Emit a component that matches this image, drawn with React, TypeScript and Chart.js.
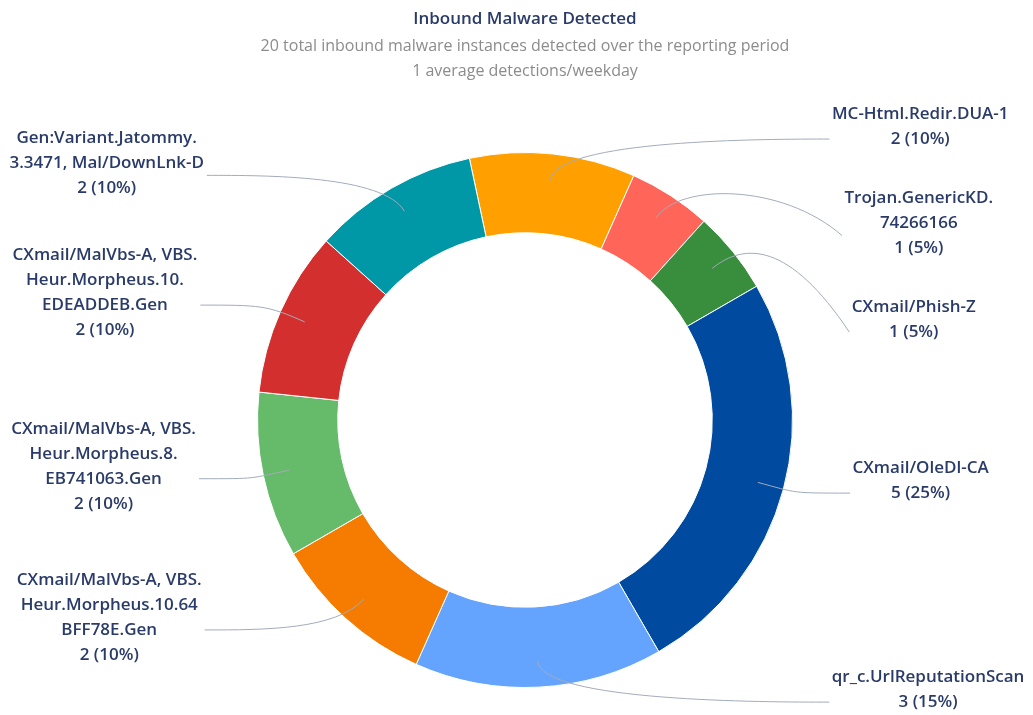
import React, { useEffect, useRef } from 'react';
import { Chart, registerables } from 'chart.js';

Chart.register(...registerables);

// ---- Data ----
const categories: string[][] = [
  ['MC-Html.Redir.DUA-1'],
  ['Trojan.GenericKD.', '74266166'],
  ['CXmail/Phish-Z'],
  ['CXmail/OleDl-CA'],
  ['qr_c.UrlReputationScan'],
  ['CXmail/MalVbs-A, VBS.', 'Heur.Morpheus.10.64', 'BFF78E.Gen'],
  ['CXmail/MalVbs-A, VBS.', 'Heur.Morpheus.8.', 'EB741063.Gen'],
  ['CXmail/MalVbs-A, VBS.', 'Heur.Morpheus.10.', 'EDEADDEB.Gen'],
  ['Gen:Variant.Jatommy.', '3.3471, Mal/DownLnk-D'],
];
const detections: number[] = [2, 1, 1, 5, 3, 2, 2, 2, 2];
const sliceColors: string[] = [
  '#FFA000', '#FF6659', '#388E3C', '#004A9F', '#64A4FF',
  '#F57C00', '#66BB6A', '#D32F2F', '#0097A7',
];
const titleText = 'Inbound Malware Detected';
const subtitleLines: string[] = [
  '20 total inbound malware instances detected over the reporting period',
  '1 average detections/weekday',
];

const NAVY = '#2a3b69';
const SUB = '#8c8c8c';
const LEADER = '#a3abba';
const FONT = '"Open Sans", "Noto Sans", sans-serif';

const outLabels = {
  id: 'outLabels',
  afterDatasetsDraw(chart: any) {
    const ctx: CanvasRenderingContext2D = chart.ctx;
    const meta = chart.getDatasetMeta(0);
    const vals = chart.data.datasets[0].data as number[];
    const total = vals.reduce((a, b) => a + b, 0);
    const LH = 25;
    const GAP = 34;
    const items = meta.data.map((el: any, i: number) => {
      const p = el.getProps(['x', 'y', 'startAngle', 'endAngle', 'outerRadius'], true);
      const mid = (p.startAngle + p.endAngle) / 2;
      const ux = Math.cos(mid);
      const uy = Math.sin(mid);
      const R = p.outerRadius;
      const lines = [
        ...(chart.data.labels[i] as string[]),
        `${vals[i]} (${Math.round((vals[i] / total) * 100)}%)`,
      ];
      return {
        cx: p.x, cy: p.y, R, ux, uy,
        right: ux >= 0,
        naturalY: p.y + (R + 15) * uy,
        lines, leaderY: 0, top: 0,
      };
    });
    for (const side of [true, false]) {
      const group = items.filter((it: any) => it.right === side).sort((a: any, b: any) => a.naturalY - b.naturalY);
      let prevBottom = -Infinity;
      for (const it of group) {
        const n = it.lines.length;
        let top = it.naturalY - (LH / 2) * (n + 1);
        if (top < prevBottom + GAP) top = prevBottom + GAP;
        it.top = top;
        it.leaderY = top + (LH / 2) * (n + 1);
        prevBottom = top + LH * n;
      }
    }
    ctx.save();
    ctx.font = `600 17px ${FONT}`;
    ctx.textBaseline = 'middle';
    ctx.textAlign = 'center';
    for (const it of items) {
      const dy = it.leaderY - it.cy;
      const k = it.right ? 20 : 10;
      const dx = it.R + 59 - k * Math.pow(dy / it.R, 2);
      const sgn = it.right ? 1 : -1;
      const endX = it.cx + sgn * dx;
      const r0 = it.R - 26.5;
      const p0x = it.cx + r0 * it.ux;
      const p0y = it.cy + r0 * it.uy;
      const p1x = it.cx + (it.R + 15) * it.ux;
      const p1y = it.naturalY;
      const p2x = endX - sgn * 60;
      const p2y = it.naturalY;
      ctx.beginPath();
      ctx.moveTo(p0x, p0y);
      ctx.bezierCurveTo(p1x, p1y, p2x, p2y, endX, it.leaderY);
      ctx.strokeStyle = LEADER;
      ctx.lineWidth = 1;
      ctx.stroke();

      const maxW = Math.max(...it.lines.map((l: string) => ctx.measureText(l).width));
      const centerX = it.right ? endX + 2.5 + maxW / 2 : endX - 3 - maxW / 2;
      ctx.fillStyle = NAVY;
      it.lines.forEach((l: string, j: number) => {
        ctx.fillText(l, centerX, it.top + LH / 2 + LH * j);
      });
    }
    // Title + subtitle
    const ca = chart.chartArea;
    const tx = (ca.left + ca.right) / 2;
    ctx.font = `600 17px ${FONT}`;
    ctx.fillStyle = NAVY;
    ctx.fillText(titleText, tx, 19);
    ctx.font = `400 16px ${FONT}`;
    ctx.fillStyle = SUB;
    subtitleLines.forEach((s, j) => ctx.fillText(s, tx, 46 + 25.5 * j));
    ctx.restore();
  },
};

export default function App() {
  const ref = useRef<HTMLCanvasElement | null>(null);
  useEffect(() => {
    if (!ref.current) return;
    const chart = new Chart(ref.current, {
      type: 'doughnut',
      data: {
        labels: categories,
        datasets: [
          {
            data: detections,
            backgroundColor: sliceColors,
            borderColor: '#ffffff',
            borderWidth: 1,
            hoverOffset: 0,
          },
        ],
      },
      options: {
        responsive: false,
        animation: false,
        events: [],
        rotation: -12,
        cutout: '70%',
        layout: { padding: { top: 152, bottom: 27, left: 230, right: 213 } },
        plugins: {
          legend: { display: false },
          tooltip: { enabled: false },
          title: { display: false },
        },
      },
      plugins: [outLabels],
    });
    return () => chart.destroy();
  }, []);
  return (
    <div style={{ position: 'fixed', left: 0, top: 0, width: 1033, height: 715, background: '#fff' }}>
      <canvas ref={ref} width={1033} height={715} style={{ display: 'block' }} />
    </div>
  );
}
